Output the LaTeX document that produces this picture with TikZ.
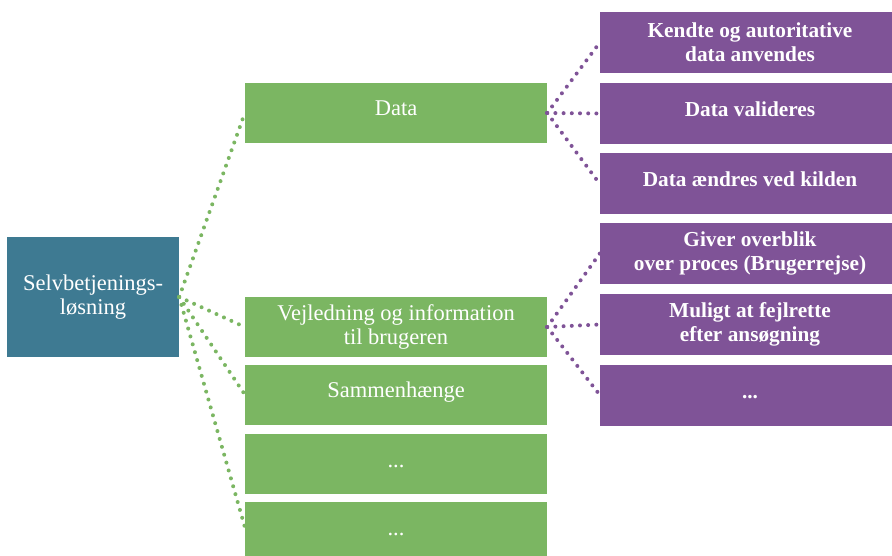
\documentclass[tikz,border=0pt]{standalone}
\usepackage{fontspec}
\setmainfont{Liberation Serif}
\definecolor{sbblue}{RGB}{62,122,146}
\definecolor{lgreen}{RGB}{123,182,98}
\definecolor{lpurple}{RGB}{127,83,151}
\begin{document}
\begin{tikzpicture}[x=1pt,y=-1pt, lift/.style={text height=12pt, text depth=6pt}]

        \clip (0,0) rectangle (892,556);

        \begin{scope}[every node/.style={rectangle, inner sep=0pt, text=white, align=center, font=\fontsize{22.5}{24}\selectfont}]
          \node[fill=sbblue, minimum width=172pt, minimum height=120pt] (sb) at (93,297) {Selvbetjenings-\\løsning};
        \end{scope}

        \begin{scope}[every node/.style={rectangle, fill=lgreen, inner sep=0pt, minimum width=302pt, minimum height=60pt, text=white, align=center, font=\fontsize{22.5}{24}\selectfont}]
          \node[lift] (data)  at (396,113)   {Data};
          \node       (vejl)  at (396,327)   {Vejledning og information\\til brugeren};
          \node[lift] (samm)  at (396,394.5) {Sammenhænge};
          \node[lift] (m1)    at (396,464)   {...};
          \node[lift] (m2)    at (396,532)   {...};
        \end{scope}

        \begin{scope}[every node/.style={rectangle, fill=lpurple, inner sep=0pt, minimum width=300pt, minimum height=61pt, text=white, align=center, font=\fontsize{21.3}{24}\selectfont\bfseries}]
          \node       (p1)  at (750,42.5)  {Kendte og autoritative\\data anvendes};
          \node[lift] (p2)  at (750,113.5) {Data valideres};
          \node[lift] (p3)  at (750,184)   {Data ændres ved kilden};
          \node       (p4)  at (750,253.5) {Giver overblik\\over proces (Brugerrejse)};
          \node       (p5)  at (750,324.5) {Muligt at fejlrette\\efter ansøgning};
          \node[lift] (p6)  at (750,395)   {...};
        \end{scope}

        \begin{scope}[every edge/.style={draw, line width=4pt, line cap=round, dash pattern=on 0pt off 8.2pt}]
          \path[lgreen] (sb.east)  edge (data.west);
          \path[lgreen] (sb.east)  edge (vejl.west);
          \path[lgreen] (sb.east)  edge (samm.west);
          \path[lgreen] (sb.east)  edge ([yshift=5pt]m2.west);

          \path[lpurple] (data.east)  edge (p1.west);
          \path[lpurple] (data.east)  edge (p2.west);
          \path[lpurple] (data.east)  edge (p3.west);
          \path[lpurple] (vejl.east)  edge (p4.west);
          \path[lpurple] (vejl.east)  edge (p5.west);
          \path[lpurple] (vejl.east)  edge (p6.west);
        \end{scope}

      \end{tikzpicture}
\end{document}
